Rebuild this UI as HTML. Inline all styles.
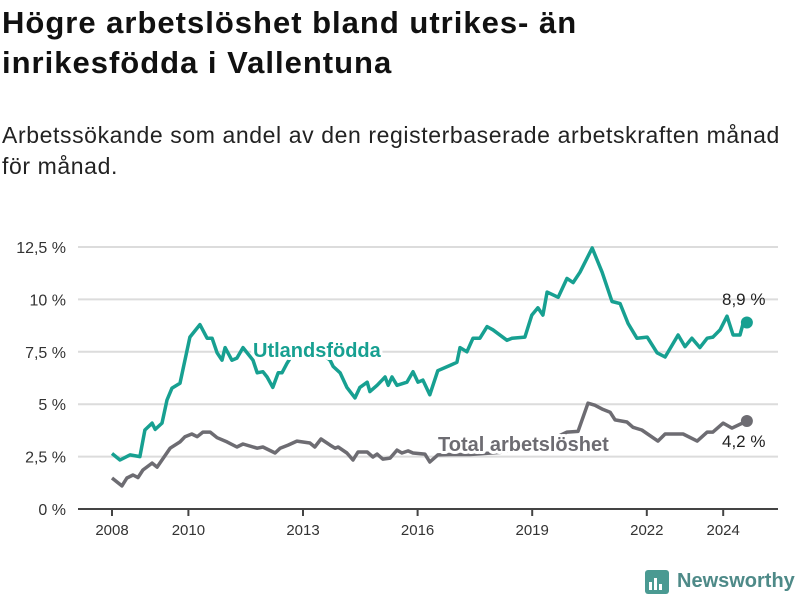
<!DOCTYPE html>
<html><head><meta charset="utf-8"><style>
body{margin:0;width:800px;height:600px;background:#fff;font-family:"Liberation Sans",sans-serif;overflow:hidden;position:relative}
h1{position:absolute;left:2px;top:3px;margin:0;font-size:31px;letter-spacing:1px;line-height:40px;font-weight:bold;color:#111;white-space:nowrap}
p{position:absolute;left:2px;top:120px;margin:0;font-size:23px;letter-spacing:0.6px;line-height:31px;color:#222;white-space:nowrap}
svg{position:absolute;left:0;top:0}
</style></head><body>
<h1>Högre arbetslöshet bland utrikes- än<br>inrikesfödda i Vallentuna</h1>
<p>Arbetssökande som andel av den registerbaserade arbetskraften månad<br>för månad.</p>
<svg id="chart" width="800" height="600"></svg>
<div style="position:absolute;left:645px;top:570px;height:26px;">
<svg width="24" height="26" style="position:absolute;left:0;top:0"><rect x="0" y="0" width="24" height="24" rx="3" fill="#4a9a92"/><rect x="4" y="12" width="3" height="8" fill="#fff"/><rect x="9" y="8" width="3" height="12" fill="#fff"/><rect x="14" y="14" width="3" height="6" fill="#fff"/></svg>
<span style="position:absolute;left:32px;top:0;font-size:20px;font-weight:bold;color:#4e8a88;white-space:nowrap">Newsworthy</span></div>
<script>
const foreignYears=[0,0.21,0.47,0.73,0.86,1.05,1.13,1.31,1.44,1.57,1.78,2.04,2.30,2.49,2.62,2.75,2.88,2.96,3.14,3.27,3.43,3.69,3.80,3.95,4.06,4.21,4.35,4.45,4.58,4.84,5.18,5.50,5.71,5.79,5.97,6.15,6.36,6.49,6.68,6.75,6.94,7.15,7.23,7.33,7.46,7.72,7.88,8.01,8.14,8.32,8.53,8.85,9.03,9.11,9.29,9.45,9.63,9.82,9.97,10.34,10.47,10.81,10.99,11.15,11.28,11.39,11.68,11.91,12.07,12.25,12.57,12.83,13.09,13.30,13.51,13.74,14.01,14.27,14.48,14.82,15.0,15.18,15.39,15.58,15.73,15.92,16.10,16.26,16.44,16.52,16.62];
const foreignValues=[2.65,2.34,2.58,2.5,3.77,4.1,3.8,4.1,5.2,5.77,6.0,8.2,8.8,8.15,8.15,7.45,7.1,7.7,7.1,7.2,7.7,7.1,6.5,6.55,6.3,5.8,6.5,6.5,6.95,7.7,7.3,7.4,7.1,6.8,6.5,5.8,5.3,5.8,6.05,5.6,5.9,6.3,5.9,6.3,5.9,6.05,6.55,6.05,6.15,5.45,6.6,6.85,7.0,7.7,7.5,8.15,8.15,8.7,8.55,8.05,8.15,8.2,9.25,9.6,9.25,10.35,10.1,11.0,10.8,11.3,12.45,11.3,9.9,9.8,8.85,8.15,8.2,7.45,7.25,8.3,7.75,8.15,7.7,8.15,8.2,8.55,9.2,8.3,8.3,8.85,8.9];
const totalYears=[0,0.26,0.39,0.55,0.68,0.81,1.05,1.18,1.31,1.52,1.78,1.91,2.09,2.23,2.38,2.57,2.75,3.01,3.27,3.43,3.80,3.95,4.27,4.40,4.61,4.84,5.18,5.31,5.47,5.71,5.84,5.92,6.15,6.31,6.44,6.68,6.83,6.94,7.09,7.28,7.46,7.59,7.75,7.88,8.19,8.32,8.53,8.85,9.37,10.16,10.94,11.60,11.91,12.20,12.46,12.64,12.85,13.04,13.17,13.48,13.64,13.87,14.29,14.48,14.95,15.32,15.58,15.73,16.0,16.23,16.62];
const totalValues=[1.48,1.1,1.48,1.62,1.5,1.86,2.19,2.0,2.34,2.9,3.2,3.45,3.58,3.45,3.67,3.67,3.4,3.2,2.96,3.1,2.9,2.96,2.67,2.9,3.05,3.24,3.15,2.96,3.34,3.05,2.9,2.96,2.67,2.34,2.72,2.72,2.48,2.62,2.38,2.43,2.81,2.67,2.77,2.67,2.62,2.24,2.58,2.6,2.6,2.7,2.95,3.4,3.67,3.7,5.05,4.95,4.75,4.62,4.25,4.15,3.9,3.77,3.24,3.58,3.58,3.24,3.67,3.67,4.1,3.86,4.2];
const yTicks=[0,2.5,5,7.5,10,12.5];
const yTickLabels=["0 %","2,5 %","5 %","7,5 %","10 %","12,5 %"];
const xTicks=[2008,2010,2013,2016,2019,2022,2024];
const NS="http://www.w3.org/2000/svg";
const svg=document.getElementById('chart');
const X=y=>112+(y-2008)*38.2;
const Y=v=>509-v*20.96;
function mk(t,a,txt){const e=document.createElementNS(NS,t);for(const k in a)e.setAttribute(k,a[k]);if(txt!==undefined)e.textContent=txt;svg.appendChild(e);return e;}
yTicks.forEach((t,i)=>{
 if(t>0){const g=mk('line',{x1:78,x2:778,y1:Y(t),y2:Y(t),stroke:'#dcdcdc','stroke-width':2});
 
 }
 const l=mk('text',{x:66,y:Y(t)+6,'text-anchor':'end','font-size':16,fill:'#333'},yTickLabels[i]);
 
 
});
const ax=mk('line',{x1:78,x2:778,y1:509,y2:509,stroke:'#444','stroke-width':2});


xTicks.forEach(t=>{
 const tk=mk('line',{x1:X(t),x2:X(t),y1:509,y2:516,stroke:'#444','stroke-width':2});
 
 
 const l=mk('text',{x:X(t),y:535,'text-anchor':'middle','font-size':15,fill:'#333'},String(t));
 
 
});
function line(ys,vs,col,name){
 const d=ys.map((y,i)=>(i?'L':'M')+X(2008+y).toFixed(1)+','+Y(vs[i]).toFixed(1)).join('');
 const p=mk('path',{d:d,fill:'none',stroke:col,'stroke-width':3.5,'stroke-linejoin':'round'});
 
 
 const n=ys.length-1;
 const c=mk('circle',{cx:X(2008+ys[n]),cy:Y(vs[n]),r:6,fill:col});
 
 
}
line(totalYears,totalValues,'#6d6c72','total-line');
line(foreignYears,foreignValues,'#17a091','foreign-born-line');
function lab(x,y,txt,col,name,bold,halo){
 const t=mk('text',{x:x,y:y,'font-size':bold?20:17,'font-weight':bold?'bold':'normal',fill:col,stroke:halo?'#fff':'none','stroke-width':halo?6:0,'paint-order':'stroke','stroke-linejoin':'round'},txt);
 
 
}
lab(253,357,'Utlandsfödda','#17a091','foreign-born-label',true,true);
lab(438,451,'Total arbetslöshet','#6d6c72','total-label',true,true);
lab(722,305,'8,9 %','#222','foreign-born-value-label',false,false);
lab(722,447,'4,2 %','#222','total-value-label',false,false);
</script>
</body></html>
